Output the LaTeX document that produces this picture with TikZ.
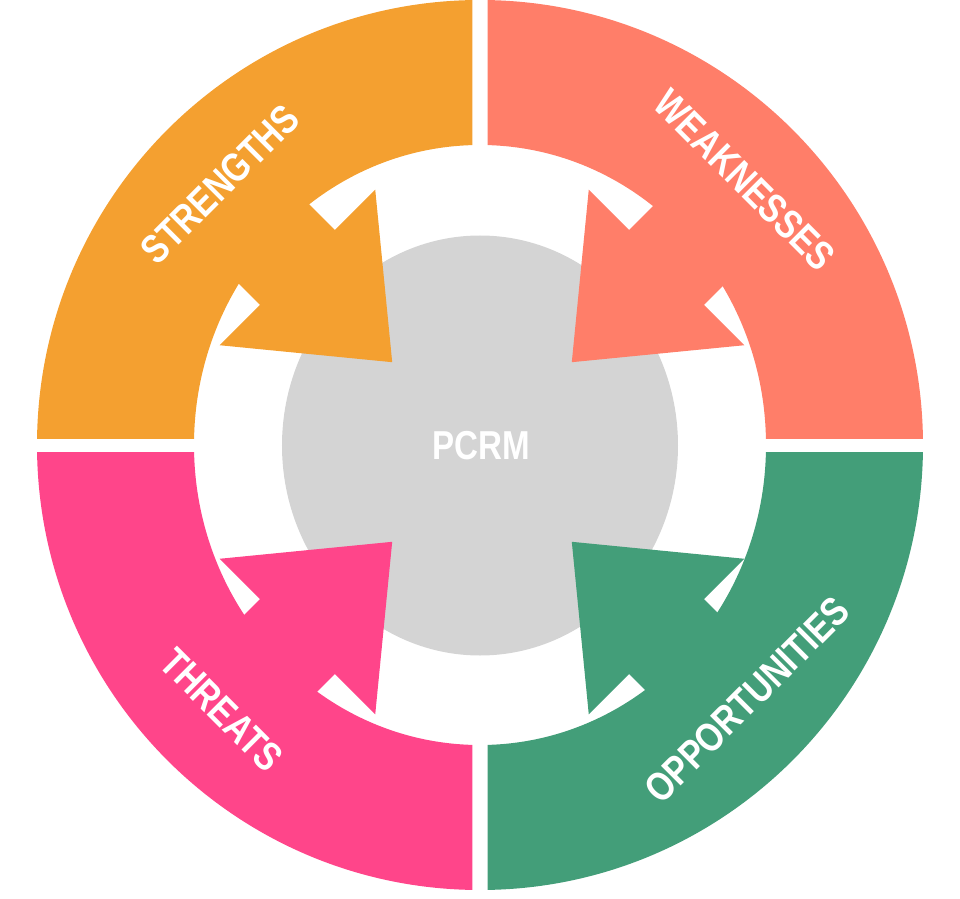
\documentclass[tikz,border=0pt]{standalone}
\usepackage{fontspec}
\setmainfont{Liberation Sans}
\newfontfamily\narrowfont[FakeStretch=0.82]{Liberation Sans}
\usepackage{tikz}

\definecolor{strcol}{RGB}{244,160,48}
\definecolor{weakcol}{RGB}{255,126,105}
\definecolor{thrcol}{RGB}{255,69,138}
\definecolor{oppcol}{RGB}{67,158,121}
\definecolor{corecol}{RGB}{212,212,212}

\tikzset{
	swotlabel/.style={text=white, inner sep=0pt, font=\narrowfont\bfseries\fontsize{23}{28}\selectfont},
	corelabel/.style={text=white, inner sep=0pt, font=\narrowfont\bfseries\fontsize{23}{28}\selectfont}
}

\begin{document}
\begin{tikzpicture}[x=0.02cm, y=0.02cm]

	% ---- parameters

	\def\outerrx{443}
	\def\outerry{445}
	\def\innerrx{286}
	\def\innerry{300}
	\def\gapx{7.5}
	\def\gapy{7}

	\useasboundingbox (-480,-454) rectangle (480,445);

	% ---- coordinates

	\coordinate (O) at (0,0);
	\coordinate (A) at (2,-7);

	% ---- ring quadrants

	\foreach \col/\qx/\qy in {strcol/-1/1, weakcol/1/1, thrcol/-1/-1, oppcol/1/-1} {
		\begin{scope}
			\clip ({\qx*\gapx},{\qy*\gapy}) rectangle ({\qx*500},{\qy*500});
			\fill[\col, even odd rule] (O) ellipse [x radius=\outerrx, y radius=\outerry]
				(O) ellipse [x radius=\innerrx, y radius=\innerry];
		\end{scope}
	}

	% ---- core

	\fill[corecol] (0,-0.5) ellipse [x radius=198, y radius=210];

	% ---- arrows

	\foreach \col/\ang in {strcol/135, weakcol/45, thrcol/225, oppcol/315} {
		\begin{scope}[shift={(A)}, rotate=\ang]
			\fill[\col] (330,53) -- (261,53) -- (261,110) -- (127,0)
				-- (261,-110) -- (261,-53) -- (330,-53) -- cycle;
		\end{scope}
	}

	% ---- labels

	\node[corelabel] (core) at (1,-1) {PCRM};

	\node[swotlabel, rotate=45] (strengths) at (-260,261) {STRENGTHS};
	\node[swotlabel, rotate=-45] (weaknesses) at (265,265) {WEAKNESSES};
	\node[swotlabel, rotate=-45] (threats) at (-258,-265) {THREATS};
	\node[swotlabel, rotate=45] (opportunities) at (267,-255) {OPPORTUNITIES};

\end{tikzpicture}
\end{document}
